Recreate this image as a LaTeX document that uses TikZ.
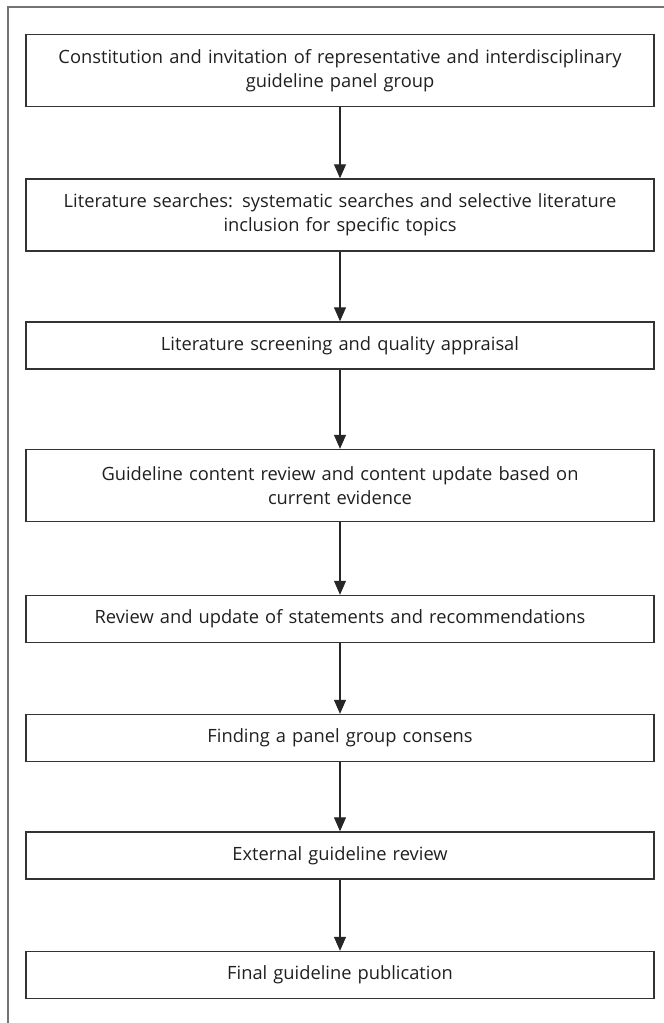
\documentclass[tikz,border=0pt]{standalone}
\usepackage{fontspec}
\setmainfont{Open Sans}
\usetikzlibrary{arrows.meta}
\begin{document}
\begin{tikzpicture}[x=1pt,y=-1pt,
  stepbox/.style={draw=black!80, line width=1.4pt, minimum width=628pt,
    align=center, inner sep=0pt, text width=620pt, text=black!88,
    font=\fontsize{18.3}{24}\selectfont},
  twoline/.style={stepbox, minimum height=72pt},
  oneline/.style={stepbox, minimum height=47pt},
  link/.style={-{Triangle[length=14pt,width=12pt]}, line width=1.1pt, draw=black!85},
  frameline/.style={draw=black!55, line width=1.5pt}]
\useasboundingbox (0,0) rectangle (664,1023);
\coordinate (fa) at (8,1023);
\coordinate (fb) at (8,7);
\coordinate (fc) at (664,7);
\draw[frameline] (fa) -- (fb) -- (fc);
\node[twoline] (b1) at (340,70.5) {Constitution and invitation of representative and interdisciplinary\\guideline panel group};
\node[twoline] (b2) at (340,215) {Literature searches: systematic searches and selective literature\\inclusion for specific topics};
\node[oneline] (b3) at (340,345.5) {Literature screening and quality appraisal};
\node[twoline] (b4) at (340,485.5) {Guideline content review and content update based on\\current evidence};
\node[oneline] (b5) at (340,619) {Review and update of statements and recommendations};
\node[oneline] (b6) at (340,738) {Finding a panel group consens};
\node[oneline] (b7) at (340,855.5) {External guideline review};
\node[oneline] (b8) at (340,975) {Final guideline publication};
\draw[link] (b1) -- (b2);
\draw[link] (b2) -- (b3);
\draw[link] (b3) -- (b4);
\draw[link] (b4) -- (b5);
\draw[link] (b5) -- (b6);
\draw[link] (b6) -- (b7);
\draw[link] (b7) -- (b8);
\end{tikzpicture}
\end{document}
